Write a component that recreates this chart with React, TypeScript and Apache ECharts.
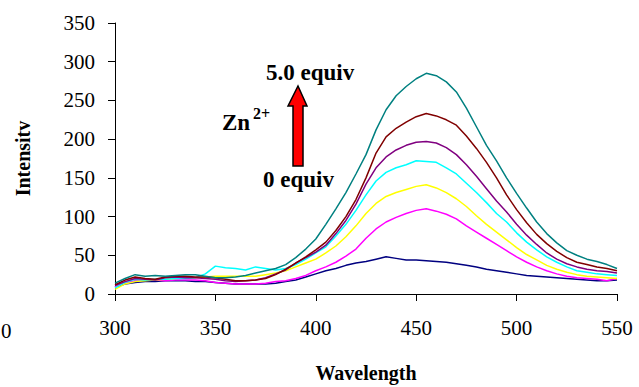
import React, { useEffect, useRef } from "react";
import * as echarts from "echarts";

const wavelengths = [300,305,310,315,320,325,330,335,340,345,350,355,360,365,370,375,380,385,390,395,400,405,410,415,420,425,430,435,440,445,450,455,460,465,470,475,480,485,490,495,500,505,510,515,520,525,530,535,540,545,550];

const eq0 = [9,13,15,16,16,17,17,17,16,16,15,14,13,13,13,13,14,16,18,22,26,30,33,37,40,42,45,48,46,44,44,43,42,41,39,37,35,32,30,28,26,24,23,22,21,20,19,18,17,17,18];
const eq1 = [9,15,17,18,18,17,18,18,18,17,15,14,13,13,13,14,16,17,20,24,30,35,41,49,58,72,84,93,99,104,108,110,107,103,97,88,80,72,64,56,48,41,35,30,26,23,21,20,19,17,20];
const eq2 = [6,13,16,17,18,19,20,21,21,22,23,23,23,23,23,25,27,30,35,40,45,53,62,74,88,104,117,126,131,135,139,141,137,131,123,113,101,90,80,70,60,51,44,37,32,28,25,23,22,21,20];
const eq3 = [8,15,19,18,19,19,20,20,21,26,36,34,33,31,35,33,31,33,38,45,53,61,75,90,108,128,146,157,163,167,172,171,170,163,155,143,131,118,104,93,79,67,57,48,41,35,30,28,26,25,24];
const eq4 = [11,16,20,19,18,21,22,21,21,20,19,17,16,17,18,21,26,31,40,47,54,63,78,95,116,142,163,177,186,192,196,197,195,189,180,167,152,136,120,106,90,76,64,53,45,39,35,32,30,29,27];
const eq5 = [12,18,22,20,19,22,23,23,22,22,21,19,17,17,18,20,25,32,40,48,57,67,82,100,122,150,182,203,214,222,229,233,230,225,218,204,188,170,150,128,109,92,77,65,55,47,41,38,35,33,30];
const eq6 = [14,20,25,23,24,23,24,25,25,23,21,21,22,24,27,30,33,38,47,58,71,90,110,131,155,180,212,238,256,268,278,285,282,274,261,240,216,192,172,150,130,111,93,78,66,56,50,45,42,38,33];

const seriesNames = ["0 equiv","1","2","3","4","5","5.0 equiv"];
const seriesData = [eq0, eq1, eq2, eq3, eq4, eq5, eq6];
const seriesColors = ["#000080","#FF00FF","#FFFF00","#00FFFF","#800080","#800000","#008080"];

const FONT = "Times New Roman, Liberation Serif, DejaVu Serif, serif";

export default function App() {
  const ref = useRef<HTMLDivElement>(null);
  useEffect(() => {
    if (!ref.current) return;
    const chart = echarts.init(ref.current, null, { renderer: "svg" });
    chart.setOption({
      animation: false,
      backgroundColor: "#ffffff",
      textStyle: { fontFamily: FONT },
      grid: { left: 115, right: 22, top: 23, bottom: 93, containLabel: false, outerBoundsMode: "none" },
      xAxis: {
        type: "value",
        min: 300,
        max: 550,
        interval: 50,
        name: "Wavelength",
        nameLocation: "middle",
        nameGap: 69,
        nameTextStyle: { fontFamily: FONT, fontSize: 20, fontWeight: "bold", color: "#000" },
        axisLine: { lineStyle: { color: "#000", width: 1 } },
        axisTick: { show: true, length: 7, lineStyle: { color: "#000" } },
        axisLabel: { fontFamily: FONT, fontSize: 21, color: "#000", margin: 23 },
        splitLine: { show: false },
      },
      yAxis: {
        type: "value",
        min: 0,
        max: 350,
        interval: 50,
        name: "Intensitv",
        nameLocation: "middle",
        nameGap: 82,
        nameTextStyle: { fontFamily: FONT, fontSize: 20, fontWeight: "bold", color: "#000" },
        axisLine: { show: true, lineStyle: { color: "#000", width: 1 } },
        axisTick: { show: true, length: 7, lineStyle: { color: "#000" } },
        axisLabel: { fontFamily: FONT, fontSize: 21, color: "#000", margin: 20 },
        splitLine: { show: false },
      },
      series: seriesData.map((d, i) => ({
        type: "line",
        name: seriesNames[i],
        data: d.map((v, j) => [wavelengths[j], v]),
        showSymbol: false,
        symbol: "none",
        lineStyle: { color: seriesColors[i], width: 1.5 },
        itemStyle: { color: seriesColors[i] },
        z: 2 + i,
      })),
      graphic: [
        {
          type: "polygon",
          shape: { points: [[298, 86], [307, 106], [303, 106], [303, 166], [293, 166], [293, 106], [288, 106]] },
          style: { fill: "#ff0000", stroke: "#000", lineWidth: 1.5 },
        },
        { type: "text", left: 266, top: 61, style: { text: "5.0 equiv", fontFamily: FONT, fontSize: 23, fontWeight: "bold", fill: "#000" } },
        { type: "text", left: 263, top: 168, style: { text: "0 equiv", fontFamily: FONT, fontSize: 23, fontWeight: "bold", fill: "#000" } },
        { type: "text", left: 222, top: 111, style: { text: "Zn", fontFamily: FONT, fontSize: 23, fontWeight: "bold", fill: "#000" } },
        { type: "text", left: 253, top: 105, style: { text: "2+", fontFamily: FONT, fontSize: 16, fontWeight: "bold", fill: "#000" } },
        { type: "text", left: 1, top: 320, style: { text: "0", fontFamily: FONT, fontSize: 21, fill: "#000" } },
      ],
    });
    return () => chart.dispose();
  }, []);
  return <div ref={ref} style={{ position: "fixed", left: 0, top: 0, width: 639, height: 387 }} />;
}
